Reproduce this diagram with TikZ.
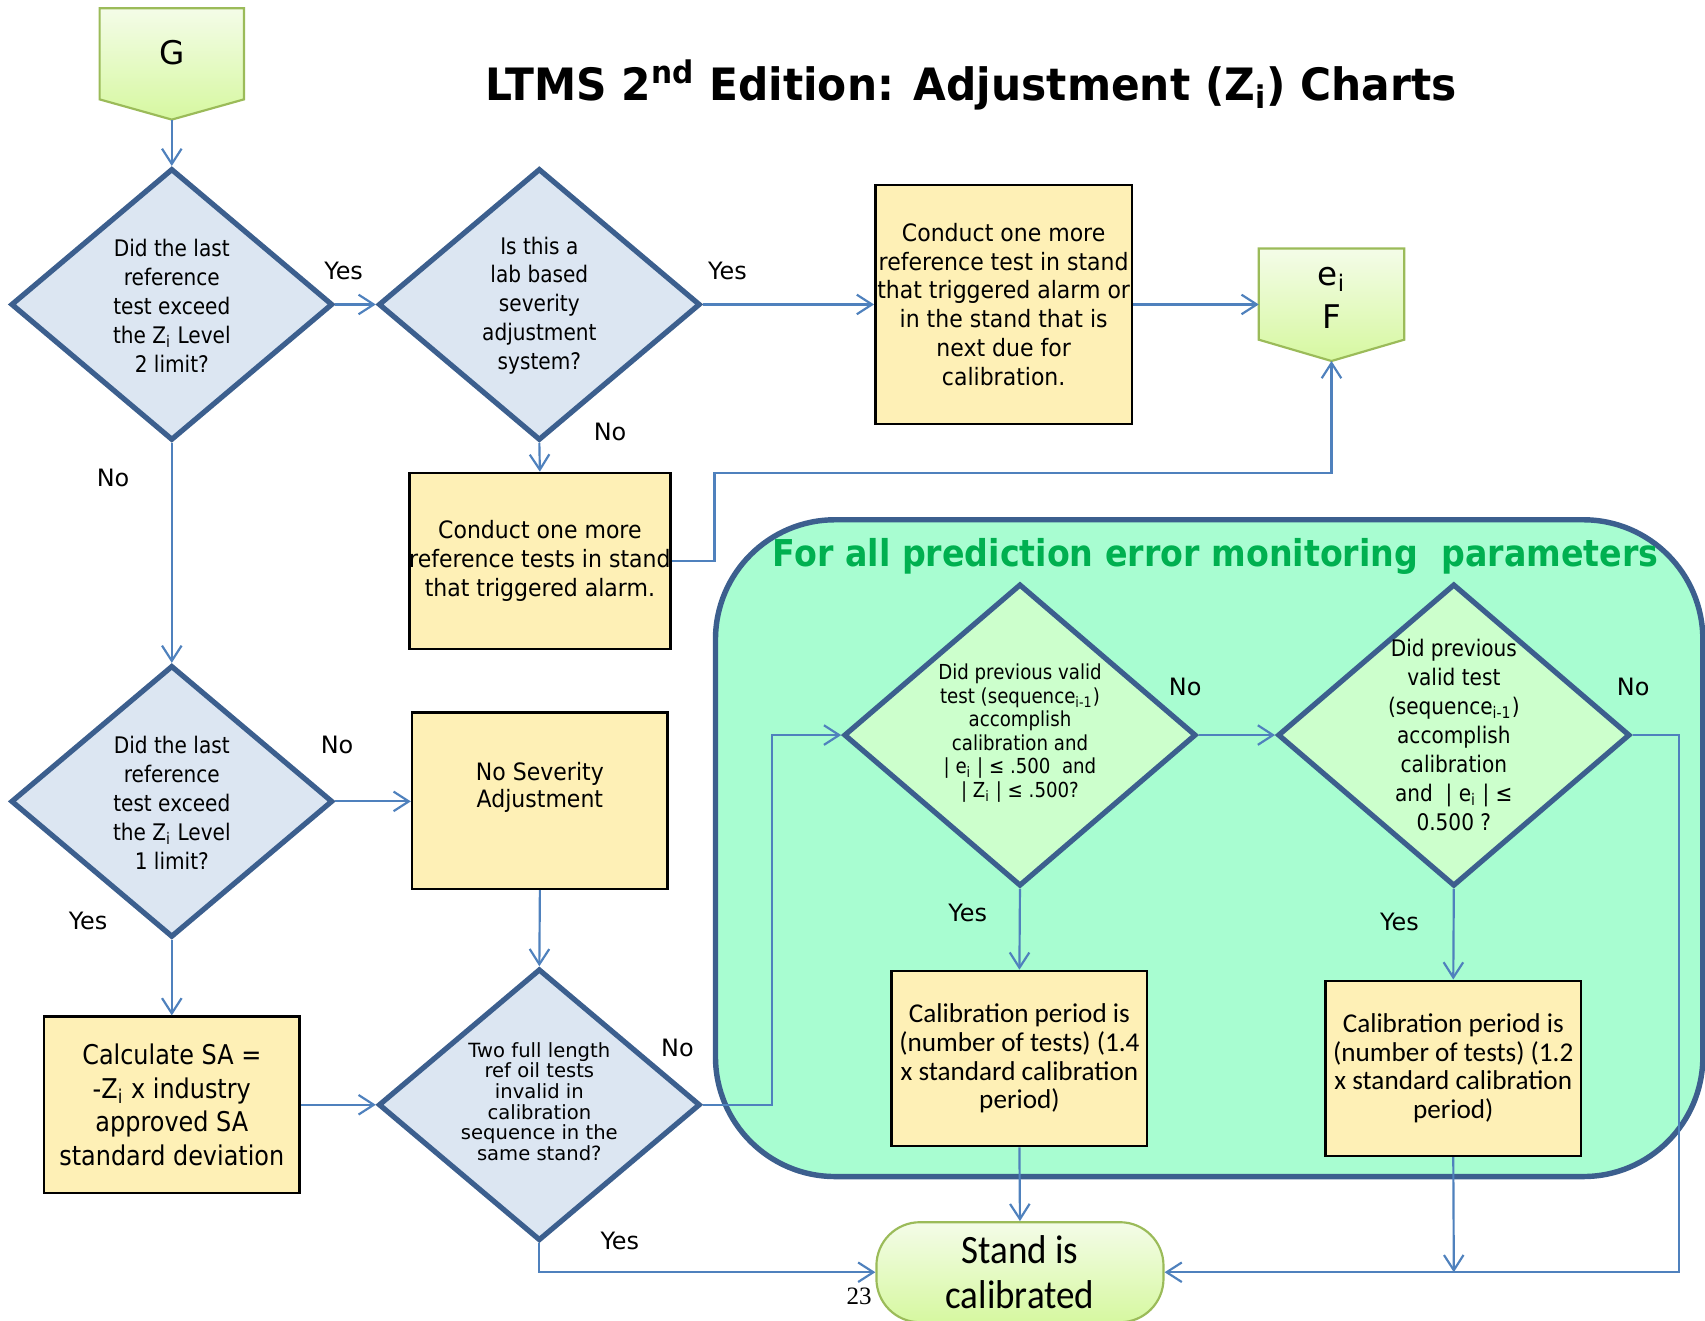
\documentclass[tikz,border=0pt]{standalone}
\usepackage{fontspec}
\setmainfont{DejaVu Sans}
\newfontfamily\tah{DejaVu Sans}[FakeStretch=0.88]
\newfontfamily\boxf{DejaVu Sans}[FakeStretch=0.92]
\newfontfamily\calf{Carlito}
\newfontfamily\standf{Carlito}[FakeStretch=0.92]
\newfontfamily\headf{DejaVu Sans}[FakeStretch=0.95]
\newfontfamily\zonef{DejaVu Sans}[FakeStretch=0.9]
\newfontfamily\pagefont{Liberation Serif}
\usetikzlibrary{arrows.meta,shapes.geometric}

\definecolor{dborder}{HTML}{3C5F8E}
\definecolor{dfill}{HTML}{DCE6F2}
\definecolor{gfill}{HTML}{CCFFCC}
\definecolor{boxfill}{HTML}{FEF0B6}
\definecolor{link}{HTML}{4F81BD}
\definecolor{zonefill}{HTML}{A8FDD1}
\definecolor{termtop}{HTML}{F4FCE8}
\definecolor{termbot}{HTML}{D6F8A0}
\definecolor{termline}{HTML}{9BBB59}
\definecolor{zonegreen}{HTML}{00B050}

\begin{document}
\begin{tikzpicture}[x=0.5pt,y=-0.5pt,
  decision/.style={diamond,draw=dborder,line width=2.4pt,fill=dfill,
    minimum width=148pt,minimum height=125pt,inner sep=0pt},
  bigdecision/.style={decision,fill=gfill,minimum width=162pt,minimum height=139pt},
  dtext/.style={align=center,inner sep=0pt,font=\tah\fontsize{10.5}{13.3}\selectfont},
  stepbox/.style={draw=black,line width=1.2pt,fill=boxfill,minimum width=117.5pt,
    minimum height=81pt,inner sep=0pt,align=center,font=\boxf\fontsize{11}{13.25}\selectfont},
  calbox/.style={stepbox,font=\calf\fontsize{12.5}{13.2}\selectfont},
  termshade/.style={draw=termline,line width=1pt,top color=termtop,bottom color=termbot},
  lbl/.style={inner sep=0pt,font=\fontsize{11}{13}\selectfont},
  arr/.style={draw=link,line width=1pt,-{Straight Barb[length=7pt,width=9pt]}}]

\useasboundingbox (0,0) rectangle (1568,1214);

% shaded area for the monitoring parameters
\node[draw=dborder,line width=2.5pt,fill=zonefill,rounded corners=55pt,
  minimum width=454pt,minimum height=302pt] (zone) at (1112,780) {};
\node[font=\zonef\bfseries\fontsize{17}{19}\selectfont,text=zonegreen] (zonetitle) at (1118,512)
  {For all prediction error monitoring\ \ parameters};

% title
\node[font=\headf\bfseries\fontsize{20.5}{24}\selectfont] (title) at (893,78)
  {LTMS 2\textsuperscript{nd} Edition: Adjustment (Z\textsubscript{i}) Charts};

% off-page connectors
\node[minimum width=66pt,minimum height=41.5pt,inner sep=0pt] (G) at (158,49.5) {};
\coordinate (Gtip) at (158,110);
\path[termshade] (G.north west) -- (G.north east) -- (G.south east) -- (Gtip) -- (G.south west) -- cycle;
\node[font=\fontsize{15}{18}\selectfont] (Gtxt) at (158,48) {G};

\node[minimum width=66.5pt,minimum height=41.5pt,inner sep=0pt] (F) at (1224.5,270.5) {};
\coordinate (Ftip) at (1224.5,332);
\path[termshade] (F.north west) -- (F.north east) -- (F.south east) -- (Ftip) -- (F.south west) -- cycle;
\node[align=center,font=\fontsize{15}{20}\selectfont] (Ftxt) at (1224.5,274) {e\textsubscript{i}\\F};

% decisions
\node[decision] (d1) at (158,280) {};
\node[dtext] (d1t) at (158,281) {Did the last\\reference\\test exceed\\the Z\textsubscript{i} Level\\2 limit?};
\node[decision] (d2) at (496,280) {};
\node[dtext] (d2t) at (496,281) {Is this a\\lab based\\severity\\adjustment\\system?};
\node[decision] (d3) at (158,737) {};
\node[dtext] (d3t) at (158,738) {Did the last\\reference\\test exceed\\the Z\textsubscript{i} Level\\1 limit?};
\node[decision] (d4) at (496,1016) {};
\node[dtext,font=\fontsize{9}{9.5}\selectfont] (d4t) at (496,1013)
  {Two full length\\ref oil tests\\invalid in\\calibration\\sequence in the\\same stand?};
\node[bigdecision] (d5) at (938,676) {};
\node[dtext,font=\tah\fontsize{9.5}{10.8}\selectfont] (d5t) at (938,674)
  {Did previous valid\\test (sequence\textsubscript{i-1})\\accomplish\\calibration and\\| e\textsubscript{i} | ≤ .500\ \ and\\| Z\textsubscript{i} | ≤ .500?};
\node[bigdecision] (d6) at (1337,676) {};
\node[dtext] (d6t) at (1337,676)
  {Did previous\\valid test\\(sequence\textsubscript{i-1})\\accomplish\\calibration\\and\ \ | e\textsubscript{i} | ≤\\0.500 ?};

% process boxes
\node[stepbox,minimum width=118pt,minimum height=110pt] (b1) at (923,280)
  {Conduct one more\\reference test in stand\\that triggered alarm or\\in the stand that is\\next due for\\calibration.};
\node[stepbox] (b2) at (496.5,516)
  {Conduct one more\\reference tests in stand\\that triggered alarm.};
\node[stepbox] (nosev) at (496.5,736.5) {};
\node[align=center,inner sep=0pt,font=\boxf\fontsize{11}{12.5}\selectfont] (nosevt) at (496.5,724)
  {No Severity\\Adjustment};
\node[stepbox,font=\tah\fontsize{12.5}{15.5}\selectfont] (calc) at (158,1016)
  {Calculate SA =\\-Z\textsubscript{i} x industry\\approved SA\\standard deviation};
\node[calbox,minimum height=80.5pt] (cal1) at (937.5,973.5)
  {Calibration period is\\(number of tests) (1.4\\x standard calibration\\period)};
\node[calbox,minimum height=80.5pt] (cal2) at (1336.5,982.5)
  {Calibration period is\\(number of tests) (1.2\\x standard calibration\\period)};

% end state
\node[draw=termline,line width=1pt,top color=termtop,bottom color=termbot,rounded corners=20pt,
  minimum width=132pt,minimum height=46pt,inner sep=0pt,align=center,
  font=\standf\fontsize{18.5}{21}\selectfont] (stand) at (938,1170) {Stand is\\calibrated};
\node[font=\pagefont\fontsize{11.5}{13}\selectfont,inner sep=0pt] (page) at (790,1192) {23};

% connectors
\coordinate (jog1) at (657,435);
\coordinate (jog2) at (710,1016);
\coordinate (jog3) at (1544,676);
\coordinate (merge) at (1337,1170);
\draw[arr] (Gtip) -- (d1.north);
\draw[arr] (d1.east) -- (d2.west);
\draw[arr] (d2.east) -- (b1.west);
\draw[arr] (b1.east) -- (b1.east -| F.west);
\draw[arr] (d2.south) -- (b2.north);
\draw[arr] (b2.east) -| (jog1) -| (Ftip);
\draw[arr] (d1.south) -- (d3.north);
\draw[arr] (d3.east) -- (d3.east -| nosev.west);
\draw[arr] (d3.south) -- (calc.north);
\draw[arr] (nosev.south) -- (d4.north);
\draw[arr] (calc.east) -- (d4.west);
\draw[arr] (d4.east) -- (jog2) |- (d5.west);
\draw[arr] (d4.south) |- (stand.west);
\draw[arr] (d5.east) -- (d6.west);
\draw[arr] (d5.south) -- (cal1.north);
\draw[arr] (d6.south) -- (cal2.north);
\draw[arr] (cal1.south) -- (stand.north);
\draw[arr] (cal2.south) -- (merge);
\draw[arr] (d6.east) -- (jog3) |- (stand.east);

% branch labels
\node[lbl] (y1) at (316,249) {Yes};
\node[lbl] (y2) at (669,249) {Yes};
\node[lbl] (n2) at (561,397) {No};
\node[lbl] (n1) at (104,440) {No};
\node[lbl] (n3) at (310,685) {No};
\node[lbl] (y3) at (81,847) {Yes};
\node[lbl] (n4) at (623,964) {No};
\node[lbl] (y4) at (570,1141) {Yes};
\node[lbl] (n5) at (1090,632) {No};
\node[lbl] (y5) at (890,840) {Yes};
\node[lbl] (n6) at (1502,632) {No};
\node[lbl] (y6) at (1287,848) {Yes};
\end{tikzpicture}
\end{document}
